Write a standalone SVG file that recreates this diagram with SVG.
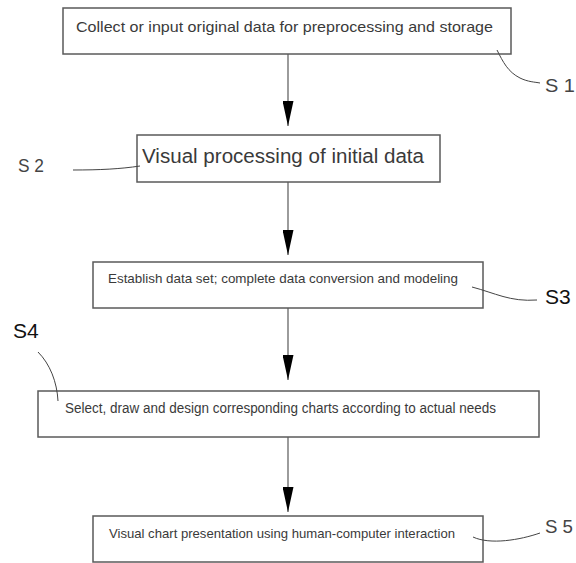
<svg xmlns="http://www.w3.org/2000/svg" width="576" height="563" viewBox="0 0 576 563">
<style>
.box{fill:#fff;stroke:#5a5a5a;stroke-width:1.5}
.t{font-family:"Liberation Sans",Arial,sans-serif;fill:#3a3a3a}
.lbl{font-family:"Liberation Sans",Arial,sans-serif;fill:#444;font-size:18px}
.lblb{font-family:"Liberation Sans",Arial,sans-serif;fill:#111;font-size:21px}
.lead{fill:none;stroke:#444;stroke-width:1}
.conn{fill:none;stroke:#666;stroke-width:1.3}
</style>
<defs>
<marker id="ah" viewBox="0 0 25 11" markerWidth="25" markerHeight="11" refX="25" refY="5.5" orient="auto" markerUnits="userSpaceOnUse">
<path d="M0,0 L25,5.5 L0,11 Z" fill="#000"/>
</marker>
</defs>
<rect width="576" height="563" fill="#fff"/>
<g id="connectors">
<path class="conn" d="M288,54 V126" marker-end="url(#ah)"/>
<path class="conn" d="M288,182 V255" marker-end="url(#ah)"/>
<path class="conn" d="M288,308 V380" marker-end="url(#ah)"/>
<path class="conn" d="M288,437 V512" marker-end="url(#ah)"/>
</g>
<g id="s1">
<rect class="box" x="63" y="8" width="448" height="46"/>
<text class="t" x="76" y="32" font-size="15" textLength="417" lengthAdjust="spacingAndGlyphs">Collect or input original data for preprocessing and storage</text>
</g>
<g id="s2">
<rect class="box" x="137" y="135" width="303" height="47"/>
<text class="t" x="142" y="163" font-size="20" textLength="282" lengthAdjust="spacingAndGlyphs">Visual processing of initial data</text>
</g>
<g id="s3">
<rect class="box" x="93" y="262" width="390" height="46"/>
<text class="t" x="108" y="283" font-size="13" textLength="350" lengthAdjust="spacingAndGlyphs">Establish data set; complete data conversion and modeling</text>
</g>
<g id="s4">
<rect class="box" x="38" y="391" width="501" height="46"/>
<text class="t" x="65" y="413" font-size="14" textLength="431" lengthAdjust="spacingAndGlyphs">Select, draw and design corresponding charts according to actual needs</text>
</g>
<g id="s5">
<rect class="box" x="93" y="516" width="390" height="46"/>
<text class="t" x="109" y="538" font-size="13.5" textLength="346" lengthAdjust="spacingAndGlyphs">Visual chart presentation using human-computer interaction</text>
</g>
<g id="labels">
<path class="lead" d="M497,50 C503,62 508,72 520,78 C528,82 535,82 540,83"/>
<text class="lbl" x="545" y="92" textLength="30" lengthAdjust="spacingAndGlyphs">S 1</text>
<path class="lead" d="M73,170 C100,170 120,169 140,166"/>
<text class="lbl" x="18" y="172" textLength="26" lengthAdjust="spacingAndGlyphs">S 2</text>
<path class="lead" d="M472,287 C495,293 510,302 537,300"/>
<text class="lblb" x="545" y="304">S3</text>
<path class="lead" d="M38,352 C50,364 57,382 58,401"/>
<text class="lblb" x="13" y="338">S4</text>
<path class="lead" d="M473,537 C490,545 520,540 540,533"/>
<text class="lbl" x="545" y="533" textLength="28" lengthAdjust="spacingAndGlyphs">S 5</text>
</g>
</svg>
